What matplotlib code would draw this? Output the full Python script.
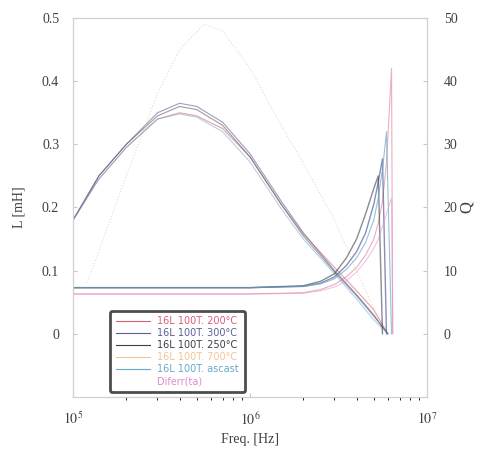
import numpy as np
import matplotlib.pyplot as plt

plt.rcParams['font.family'] = ['Liberation Serif', 'DejaVu Serif']
plt.rcParams['mathtext.fontset'] = 'stix'

# inductance curves (left axis)
freq_l = [1e5, 1.4e5, 2e5, 3e5, 4e5, 5e5, 7e5, 1e6, 1.5e6, 2e6, 3e6, 4e6, 5e6, 6e6]
L_200 = [0.18, 0.245, 0.295, 0.34, 0.35, 0.345, 0.325, 0.28, 0.205, 0.158, 0.105, 0.068, 0.038, 0.0]
L_300 = [0.18, 0.25, 0.30, 0.35, 0.365, 0.36, 0.335, 0.285, 0.21, 0.16, 0.10, 0.062, 0.03, 0.0]
L_250 = [0.18, 0.25, 0.30, 0.345, 0.36, 0.355, 0.33, 0.28, 0.205, 0.155, 0.098, 0.06, 0.028, 0.0]
L_asc = [0.18, 0.245, 0.295, 0.34, 0.348, 0.343, 0.32, 0.272, 0.198, 0.15, 0.095, 0.055, 0.022, 0.0]

freq_l700 = [1.2e5, 2e5, 3e5, 4e5, 5.5e5, 7e5, 1e6, 1.5e6, 2e6, 3e6, 4e6, 5e6, 5.6e6]
L_700 = [0.08, 0.25, 0.38, 0.45, 0.49, 0.48, 0.42, 0.33, 0.27, 0.18, 0.10, 0.04, 0.0]

# Q curves (right axis)
freq_q = [1e5, 1e6, 2e6, 2.5e6, 3e6, 3.5e6, 4e6, 4.5e6, 5e6, 5.3e6, 5.6e6, 5.9e6, 6.3e6, 6.4e6]
Q_250 = [7.3, 7.3, 7.6, 8.3, 9.5, 12, 15, 19, 23, 25, 0, np.nan, np.nan, np.nan]
Q_300 = [7.3, 7.3, 7.5, 8.0, 9.0, 10.8, 13, 16, 20.5, 24, 27.7, 0, np.nan, np.nan]
Q_asc = [7.3, 7.3, 7.5, 7.9, 8.7, 10.2, 12, 14.5, 18, 21.5, 26, 32, 0, np.nan]
Q_200 = [6.3, 6.3, 6.5, 7.0, 7.8, 9.0, 10.5, 12.5, 15, 17.5, 21, 27, 42, 0]
Q_dif = [6.3, 6.3, 6.4, 6.8, 7.4, 8.4, 9.8, 11.5, 13.5, 15, 17, 19, 21.5, 0]

labels = ['16L 100T. 200°C', '16L 100T. 300°C', '16L 100T. 250°C',
          '16L 100T. 700°C', '16L 100T. ascast', 'Diferr(ta)']
colors = ['#d8607a', '#5a6094', '#3a3f4a', '#f2c49a', '#6aa8c8', '#e28ad0']

fig = plt.figure(figsize=(4.82, 4.51), dpi=100)
ax = fig.add_axes([0.1515, 0.120, 0.7345, 0.840])
ax2 = ax.twinx()

ax.plot(freq_l, L_200, color=colors[0], lw=0.8, alpha=0.6)
ax.plot(freq_l, L_300, color=colors[1], lw=0.8, alpha=0.6)
ax.plot(freq_l, L_250, color=colors[2], lw=0.8, alpha=0.5)
ax.plot(freq_l700, L_700, color=colors[3], lw=0.8, ls=':', alpha=0.7)
ax.plot(freq_l, L_asc, color=colors[4], lw=0.8, alpha=0.5)

ax2.plot(freq_q, Q_200, color=colors[0], lw=0.8, alpha=0.5)
ax2.plot(freq_q, Q_300, color=colors[1], lw=1.0, alpha=0.7)
ax2.plot(freq_q, Q_250, color=colors[2], lw=1.0, alpha=0.6)
ax2.plot(freq_q, Q_asc, color=colors[4], lw=0.8, alpha=0.7)
ax2.plot(freq_q, Q_dif, color=colors[5], lw=0.8, alpha=0.5)

ax.set_xscale('log')
ax.set_xlim(1e5, 1e7)
ax.set_ylim(-0.1, 0.5)
ax2.set_ylim(-10, 50)
ax.set_yticks([0, 0.1, 0.2, 0.3, 0.4, 0.5])
ax.set_yticklabels(['0', '0.1', '0.2', '0.3', '0.4', '0.5'])
ax2.set_yticks([0, 10, 20, 30, 40, 50])

for a in (ax, ax2):
    for s in a.spines.values():
        s.set_color('#d0d0d0')
        s.set_linewidth(0.8)
    a.tick_params(colors='#c8c8c8', labelcolor='#404040', labelsize=10, direction='in', length=3)
ax.set_xticks([1e5, 1e6, 1e7])
ax.set_xticklabels(['$10^5$', '$10^6$', '$10^7$'])
ax.tick_params(axis='x', pad=10)
ax.tick_params(axis='y', pad=10)
ax2.tick_params(axis='y', pad=12)

ax.set_xlabel('Freq. [Hz]', color='#404040', fontsize=10)
ax.set_ylabel('L [mH]', color='#404040', fontsize=10, labelpad=12)
ax2.set_ylabel('Q', color='#404040', fontsize=12, labelpad=1, rotation=90)

handles = [plt.Line2D([], [], color=c, lw=0.8) for c in colors[:5]]
handles.append(plt.Line2D([], [], color='none'))
leg = ax.legend(handles, labels, loc='lower left', bbox_to_anchor=(0.09, 0.0),
                labelcolor=colors, frameon=True, fancybox=True,
                handlelength=3.5, labelspacing=0.2, borderpad=0.6,
                prop={'family': 'DejaVu Sans', 'size': 7})
leg.get_frame().set_edgecolor('#202020')
leg.get_frame().set_linewidth(2)
leg.set_zorder(5)

fig.savefig('out.png', dpi=100)
